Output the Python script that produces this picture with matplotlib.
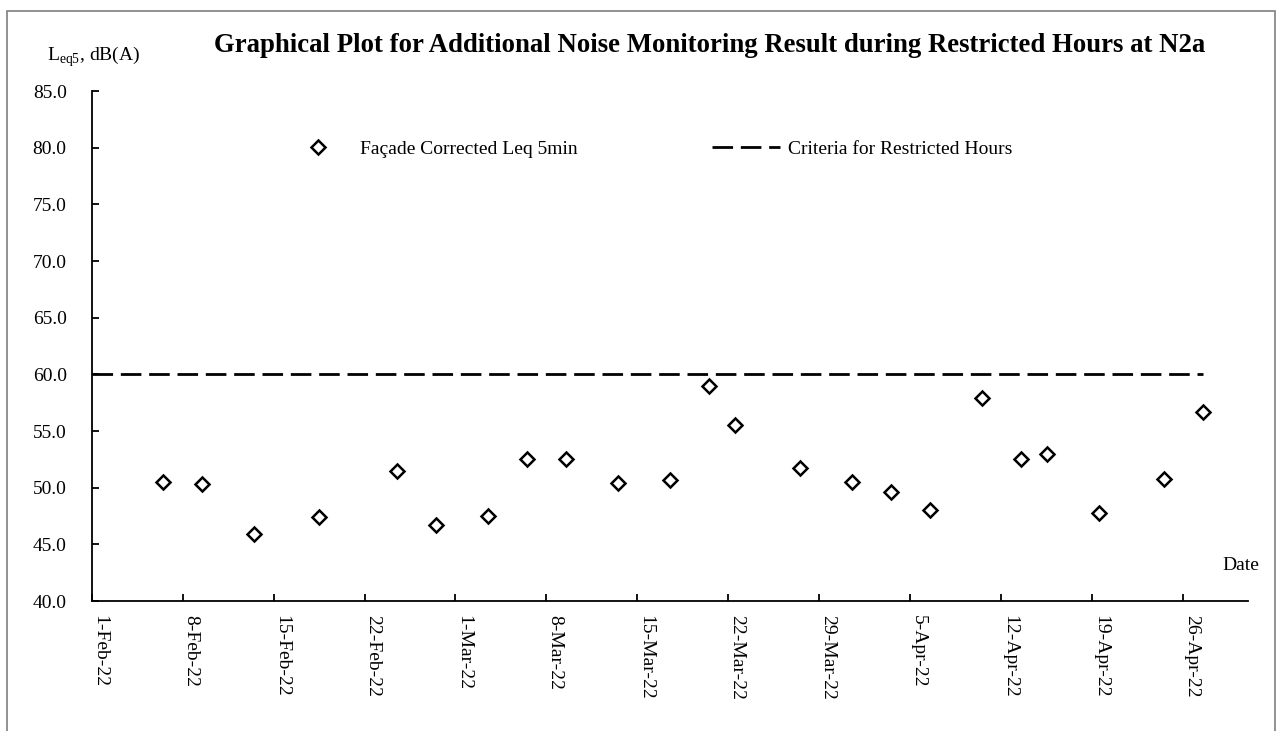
import pandas as pd
import matplotlib as mpl
mpl.use('Agg')
import matplotlib.pyplot as plt
import matplotlib.dates as mdates
from matplotlib.patches import Rectangle

plt.rcParams['font.family'] = ['Liberation Serif', 'DejaVu Serif']
plt.rcParams['mathtext.fontset'] = 'custom'
plt.rcParams['mathtext.rm'] = 'Liberation Serif'

# measurement dates (evening sessions) and façade corrected Leq 5min, dB(A)
dates = ['2022-02-06 12:00', '2022-02-09 12:00', '2022-02-13 12:00', '2022-02-18 12:00',
         '2022-02-24 12:00', '2022-02-27 12:00', '2022-03-03 12:00', '2022-03-06 12:00',
         '2022-03-09 12:00', '2022-03-13 12:00', '2022-03-17 12:00', '2022-03-20 12:00',
         '2022-03-22 12:00', '2022-03-27 12:00', '2022-03-31 12:00', '2022-04-03 12:00',
         '2022-04-06 12:00', '2022-04-10 12:00', '2022-04-13 12:00', '2022-04-15 12:00',
         '2022-04-19 12:00', '2022-04-24 12:00', '2022-04-27 12:00']
leq = [50.5, 50.3, 45.9, 47.4, 51.5, 46.7, 47.5, 52.5, 52.5, 50.4, 50.7, 59.0,
       55.5, 51.7, 50.5, 49.6, 48.0, 57.9, 52.5, 53.0, 47.8, 50.8, 56.7]

criteria_dates = ['2022-02-01 00:00', '2022-04-27 12:00']
criteria = [60.0, 60.0]

x = pd.to_datetime(dates, format='%Y-%m-%d %H:%M')
xc = pd.to_datetime(criteria_dates, format='%Y-%m-%d %H:%M')

fig = plt.figure(figsize=(12.79, 7.31), dpi=100)
ax = fig.add_axes([0.0717, 0.1778, 0.9041, 0.6977])

crit_line, = ax.plot(xc, criteria, color='black', lw=2.0, dashes=[7.4, 2.8])
pts, = ax.plot(x, leq, ls='none', marker='D', ms=7, mfc='white', mec='black', mew=1.8)

ax.set_xlim(pd.Timestamp('2022-02-01'), pd.Timestamp('2022-05-01'))
ax.set_ylim(40, 85)
ax.set_yticks(range(40, 86, 5))
ax.yaxis.set_major_formatter(mpl.ticker.FormatStrFormatter('%.1f'))
ax.xaxis.set_major_locator(mdates.WeekdayLocator(byweekday=mdates.TU))
ax.xaxis.set_major_formatter(mdates.DateFormatter('%-d-%b-%y'))

for s in ['top', 'right']:
    ax.spines[s].set_visible(False)
for s in ['left', 'bottom']:
    ax.spines[s].set_linewidth(1.3)
ax.tick_params(axis='both', direction='in', length=5, width=1.3, labelsize=14)
ax.tick_params(axis='y', pad=18)
ax.tick_params(axis='x', pad=10)
for lab in ax.get_xticklabels():
    lab.set_rotation(-90)
    lab.set_ha('left')
    lab.set_va('top')

fig.text(0.555, 0.938, 'Graphical Plot for Additional Noise Monitoring Result during Restricted Hours at N2a',
         ha='center', va='center', fontsize=19.3, fontweight='bold')
fig.text(0.0365, 0.917, r'L$_{\mathrm{eq5}}$, dB(A)', ha='left', va='baseline', fontsize=14)
fig.text(0.9554, 0.2202, 'Date', ha='left', va='baseline', fontsize=14)

leg1 = ax.legend([pts], ['Façade Corrected Leq 5min'], loc='center left',
                 bbox_to_anchor=(284 / 1279, 0.796), bbox_transform=fig.transFigure,
                 frameon=False, fontsize=14, handlelength=3.5, handletextpad=0.4,
                 borderpad=0, borderaxespad=0)
ax.add_artist(leg1)
ax.legend([crit_line], ['Criteria for Restricted Hours'], loc='center left',
          bbox_to_anchor=(712 / 1279, 0.796), bbox_transform=fig.transFigure,
          frameon=False, fontsize=14, handlelength=3.5, handletextpad=0.4,
          borderpad=0, borderaxespad=0)

fig.patches.append(Rectangle((7 / 1279, -0.05), 1268 / 1279, (720 / 731) + 0.05,
                             transform=fig.transFigure, fill=False,
                             edgecolor='#7f7f7f', lw=1.2, clip_on=False))

plt.savefig('out.png', dpi=100)
